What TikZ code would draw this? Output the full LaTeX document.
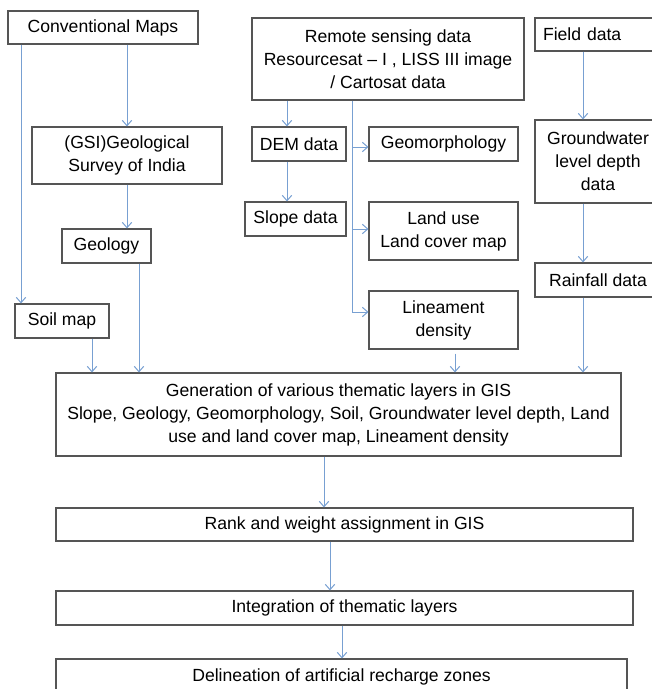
\documentclass[tikz,border=0pt]{standalone}
\usepackage{fontspec}
\setmainfont{Liberation Sans}
\usetikzlibrary{arrows.meta}
\definecolor{boxline}{RGB}{85,85,85}
\definecolor{arrcol}{RGB}{120,160,210}
\begin{document}
\begin{tikzpicture}[x=0.75pt,y=-0.75pt,
  box/.style={draw=boxline, line width=0.8pt, rectangle, align=center, inner sep=0pt,
    font=\fontsize{13.2pt}{17.25pt}\selectfont},
  arr/.style={draw=arrcol, line width=0.75pt, -{Straight Barb[length=4pt,width=7pt]}},
  plain/.style={draw=arrcol, line width=0.75pt}]
\useasboundingbox (0,0) rectangle (651,689);
% nodes
\node[box, minimum width=190*0.75pt, minimum height=33*0.75pt] (cm) at (103,27.5) {Conventional Maps};
\node[box, minimum width=190*0.75pt, minimum height=57*0.75pt] (gsi) at (127,155.5) {(GSI)Geological\\Survey of India};
\node[box, minimum width=89*0.75pt, minimum height=34*0.75pt] (geo) at (106.5,246) {Geology};
\node[box, minimum width=94*0.75pt, minimum height=34*0.75pt] (soil) at (62,321) {Soil map};
\node[box, minimum width=272*0.75pt, minimum height=82*0.75pt] (rs) at (388,59) {Remote sensing data\\Resourcesat -- I , LISS III image\\/ Cartosat data};
\node[box, minimum width=94*0.75pt, minimum height=34*0.75pt] (dem) at (299,144) {DEM data};
\node[box, minimum width=101*0.75pt, minimum height=34*0.75pt] (slope) at (295.5,219) {Slope data};
\node[box, minimum width=149*0.75pt, minimum height=34*0.75pt] (geom) at (443.5,144) {Geomorphology};
\node[box, minimum width=149*0.75pt, minimum height=58*0.75pt] (lu) at (443.5,231) {Land use\\Land cover map};
\node[box, minimum width=149*0.75pt, minimum height=58*0.75pt] (lin) at (443.5,320) {Lineament\\density};
\node[box, minimum width=126*0.75pt, minimum height=33*0.75pt, text width=110*0.75pt, align=left] (fd) at (598,34.5) {Field data};
\node[box, minimum width=126*0.75pt, minimum height=83*0.75pt] (gw) at (598,161.5) {Groundwater\\level depth\\data};
\node[box, minimum width=126*0.75pt, minimum height=34*0.75pt] (rain) at (598,280) {Rainfall data};
\node[box, minimum width=565*0.75pt, minimum height=83*0.75pt] (big) at (338.5,414.5) {Generation of various thematic layers in GIS\\Slope, Geology, Geomorphology, Soil, Groundwater level depth, Land\\use and land cover map, Lineament density};
\node[box, minimum width=577*0.75pt, minimum height=33*0.75pt] (rank) at (344.5,524.5) {Rank and weight assignment in GIS};
\node[box, minimum width=577*0.75pt, minimum height=34*0.75pt] (integ) at (344.5,608) {Integration of thematic layers};
\node[box, minimum width=571*0.75pt, minimum height=36*0.75pt] (delin) at (341.5,677) {Delineation of artificial recharge zones};
% helper x positions
\coordinate (x21) at (21,0);
\coordinate (x92) at (92,0);
\coordinate (x139) at (139,0);
\coordinate (x287) at (287,0);
\coordinate (x352) at (352,0);
\coordinate (x455) at (455,0);
\coordinate (x583) at (583,0);
\coordinate (x324) at (324,0);
\coordinate (x330) at (330,0);
\coordinate (x342) at (342,0);
\coordinate (ytrunk) at (0,312);
% connectors
\draw[arr] (cm.south -| x21) -- (soil.north -| x21);
\draw[arr] (cm.south -| gsi.north) -- (gsi.north);
\draw[arr] (gsi.south) -- (gsi.south |- geo.north);
\draw[arr] (geo.south -| x139) -- (big.north -| x139);
\draw[arr] (soil.south -| x92) -- (big.north -| x92);
\draw[arr] (rs.south -| x287) -- (dem.north -| x287);
\draw[arr] (dem.south -| x287) -- (slope.north -| x287);
\draw[plain] (rs.south -| x352) -- (x352 |- ytrunk);
\draw[arr] (x352 |- geom.west) ++(0,3) -- ([yshift=-2.25pt]geom.west);
\draw[arr] (x352 |- lu.west) ++(0,-2) -- ([yshift=1.5pt]lu.west);
\draw[arr] (x352 |- ytrunk) -- (lin.west |- ytrunk);
\draw[arr] ([yshift=-3pt]lin.south -| x455) -- (big.north -| x455);
\draw[arr] (fd.south -| x583) -- (gw.north -| x583);
\draw[arr] (gw.south -| x583) -- (rain.north -| x583);
\draw[arr] (rain.south -| x583) -- (big.north -| x583);
\draw[arr] (big.south -| x324) -- (rank.north -| x324);
\draw[arr] (rank.south -| x330) -- (integ.north -| x330);
\draw[arr] (integ.south -| x342) -- (delin.north -| x342);
\end{tikzpicture}
\end{document}
